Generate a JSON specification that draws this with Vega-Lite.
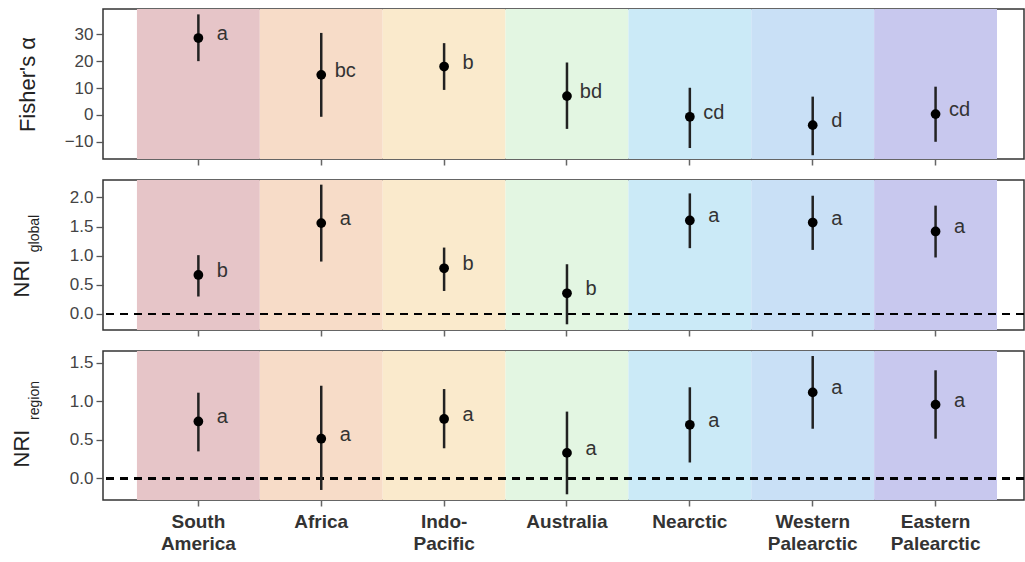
{
  "$schema": "https://vega.github.io/schema/vega-lite/v6.json",
  "padding": {"left": 9, "top": 8, "right": 0, "bottom": 0},
  "background": "white",
  "datasets": {
    "fisher": [
      {"region": "South America", "mean": 28.6, "lo": 20.0, "hi": 37.4, "letter": "a"},
      {"region": "Africa", "mean": 14.9, "lo": -0.7, "hi": 30.5, "letter": "bc"},
      {"region": "Indo-Pacific", "mean": 18.0, "lo": 9.3, "hi": 26.7, "letter": "b"},
      {"region": "Australia", "mean": 7.0, "lo": -5.2, "hi": 19.5, "letter": "bd"},
      {"region": "Nearctic", "mean": -0.7, "lo": -12.3, "hi": 10.1, "letter": "cd"},
      {"region": "Western Palearctic", "mean": -3.8, "lo": -15.0, "hi": 6.8, "letter": "d"},
      {"region": "Eastern Palearctic", "mean": 0.3, "lo": -10.0, "hi": 10.5, "letter": "cd"}
    ],
    "nriGlobal": [
      {"region": "South America", "mean": 0.67, "lo": 0.30, "hi": 1.01, "letter": "b"},
      {"region": "Africa", "mean": 1.56, "lo": 0.90, "hi": 2.22, "letter": "a"},
      {"region": "Indo-Pacific", "mean": 0.785, "lo": 0.395, "hi": 1.14, "letter": "b"},
      {"region": "Australia", "mean": 0.355, "lo": -0.177, "hi": 0.854, "letter": "b"},
      {"region": "Nearctic", "mean": 1.605, "lo": 1.13, "hi": 2.07, "letter": "a"},
      {"region": "Western Palearctic", "mean": 1.57, "lo": 1.10, "hi": 2.03, "letter": "a"},
      {"region": "Eastern Palearctic", "mean": 1.416, "lo": 0.97, "hi": 1.86, "letter": "a"}
    ],
    "nriRegion": [
      {"region": "South America", "mean": 0.737, "lo": 0.35, "hi": 1.11, "letter": "a"},
      {"region": "Africa", "mean": 0.514, "lo": -0.15, "hi": 1.2, "letter": "a"},
      {"region": "Indo-Pacific", "mean": 0.77, "lo": 0.39, "hi": 1.157, "letter": "a"},
      {"region": "Australia", "mean": 0.33, "lo": -0.206, "hi": 0.865, "letter": "a"},
      {"region": "Nearctic", "mean": 0.694, "lo": 0.206, "hi": 1.18, "letter": "a"},
      {"region": "Western Palearctic", "mean": 1.114, "lo": 0.643, "hi": 1.585, "letter": "a"},
      {"region": "Eastern Palearctic", "mean": 0.955, "lo": 0.514, "hi": 1.40, "letter": "a"}
    ]
  },
  "spacing": 12,
  "vconcat": [
    {
      "width": 921, "height": 150,
      "data": {"name": "fisher"},
      "layer": [
        {"mark": {"type": "rect", "opacity": 1},
          "encoding": {
            "x": {"field": "region", "type": "nominal", "sort": null,
              "scale": {"type": "band", "domain": ["South America", "Africa", "Indo-Pacific", "Australia", "Nearctic", "Western Palearctic", "Eastern Palearctic"], "paddingInner": 0, "paddingOuter": 0.248, "align": 0.557},
              "axis": {"title": null, "labels": false, "ticks": true, "domain": false, "grid": false, "tickColor": "#666", "tickSize": 6, "tickWidth": 1.5}},
            "color": {"field": "region", "type": "nominal", "legend": null,
            "scale": {"domain": ["South America", "Africa", "Indo-Pacific", "Australia", "Nearctic", "Western Palearctic", "Eastern Palearctic"], "range": ["#e6c5c8", "#f7dcc8", "#faeacc", "#e3f6e2", "#cbeaf7", "#c9e0f6", "#c8c8ee"]}}}},
        {"mark": {"type": "rule", "color": "#222", "strokeWidth": 2.5},
          "encoding": {
            "x": {"field": "region", "type": "nominal", "sort": null},
            "y": {"field": "lo", "type": "quantitative", "scale": {"domain": [-16.4, 39.4], "nice": false, "zero": false},
              "axis": {"orient": "left", "title": "Fisher's α", "values": [-10, 0, 10, 20, 30], "grid": false, "domain": false, "titleX": -76, "titleY": 75, "titleAngle": 270, "titleAlign": "center", "titleBaseline": "middle"}},
            "y2": {"field": "hi"}}},
        {"mark": {"type": "circle", "color": "black", "opacity": 1, "size": 95},
          "encoding": {
            "x": {"field": "region", "type": "nominal", "sort": null},
            "y": {"field": "mean", "type": "quantitative", "axis": null}}},
        {"mark": {"type": "text", "align": "center", "baseline": "middle", "dx": 24, "dy": -4, "fontSize": 20, "color": "#333", "font": "Liberation Sans"},
          "encoding": {
            "x": {"field": "region", "type": "nominal", "sort": null},
            "y": {"field": "mean", "type": "quantitative", "axis": null}, "text": {"field": "letter"}}}
      ],
      "resolve": {"axis": {"y": "independent"}}
    },
    {
      "width": 921, "height": 150,
      "data": {"name": "nriGlobal"},
      "layer": [
        {"mark": {"type": "rect", "opacity": 1},
          "encoding": {
            "x": {"field": "region", "type": "nominal", "sort": null,
              "scale": {"type": "band", "domain": ["South America", "Africa", "Indo-Pacific", "Australia", "Nearctic", "Western Palearctic", "Eastern Palearctic"], "paddingInner": 0, "paddingOuter": 0.248, "align": 0.557},
              "axis": {"title": null, "labels": false, "ticks": true, "domain": false, "grid": false, "tickColor": "#666", "tickSize": 6, "tickWidth": 1.5}},
            "color": {"field": "region", "type": "nominal", "legend": null,
            "scale": {"domain": ["South America", "Africa", "Indo-Pacific", "Australia", "Nearctic", "Western Palearctic", "Eastern Palearctic"], "range": ["#e6c5c8", "#f7dcc8", "#faeacc", "#e3f6e2", "#cbeaf7", "#c9e0f6", "#c8c8ee"]}}}},
        {"mark": {"type": "rule", "color": "black", "strokeWidth": 2, "strokeDash": [8, 6]},
          "encoding": {"y": {"datum": 0, "type": "quantitative", "scale": {"domain": [-0.275, 2.30], "nice": false, "zero": false},
            "axis": {"orient": "left", "title": "global", "labels": false, "ticks": false, "domain": false, "grid": false, "titleFontSize": 14, "titleX": -69, "titleY": 53, "titleAngle": 270, "titleAlign": "center", "titleBaseline": "middle"}}}},
        {"mark": {"type": "rule", "color": "#222", "strokeWidth": 2.5},
          "encoding": {
            "x": {"field": "region", "type": "nominal", "sort": null},
            "y": {"field": "lo", "type": "quantitative", "axis": null}, "y2": {"field": "hi"}}},
        {"mark": {"type": "circle", "color": "black", "opacity": 1, "size": 95},
          "encoding": {
            "x": {"field": "region", "type": "nominal", "sort": null},
            "y": {"field": "mean", "type": "quantitative",
            "axis": {"orient": "left", "title": "NRI", "values": [0, 0.5, 1, 1.5, 2], "format": ".1f", "grid": false, "domain": false, "titleX": -82, "titleY": 98, "titleAngle": 270, "titleAlign": "center", "titleBaseline": "middle"}}}},
        {"mark": {"type": "text", "align": "center", "baseline": "middle", "dx": 24, "dy": -4, "fontSize": 20, "color": "#333", "font": "Liberation Sans"},
          "encoding": {
            "x": {"field": "region", "type": "nominal", "sort": null},
            "y": {"field": "mean", "type": "quantitative", "axis": null}, "text": {"field": "letter"}}}
      ],
      "resolve": {"axis": {"y": "independent"}}
    },
    {
      "width": 921, "height": 149,
      "data": {"name": "nriRegion"},
      "layer": [
        {"mark": {"type": "rect", "opacity": 1},
          "encoding": {
            "x": {"field": "region", "type": "nominal", "sort": null,
              "scale": {"type": "band", "domain": ["South America", "Africa", "Indo-Pacific", "Australia", "Nearctic", "Western Palearctic", "Eastern Palearctic"], "paddingInner": 0, "paddingOuter": 0.248, "align": 0.557},
              "axis": {"title": null, "labels": true, "ticks": true, "domain": false, "grid": false, "tickColor": "#666", "tickSize": 6, "tickWidth": 1.5, "labelAngle": 0,
                "labelExpr": "datum.value == 'Indo-Pacific' ? ['Indo-', 'Pacific'] : split(datum.value, ' ')",
                "labelFontWeight": "bold", "labelFontSize": 19, "labelLineHeight": 22, "labelColor": "#333", "labelPadding": 6}},
            "color": {"field": "region", "type": "nominal", "legend": null,
            "scale": {"domain": ["South America", "Africa", "Indo-Pacific", "Australia", "Nearctic", "Western Palearctic", "Eastern Palearctic"], "range": ["#e6c5c8", "#f7dcc8", "#faeacc", "#e3f6e2", "#cbeaf7", "#c9e0f6", "#c8c8ee"]}}}},
        {"mark": {"type": "rule", "color": "black", "strokeWidth": 2, "strokeDash": [8, 6]},
          "encoding": {"y": {"datum": 0, "type": "quantitative", "scale": {"domain": [-0.28, 1.65], "nice": false, "zero": false},
            "axis": {"orient": "left", "title": "region", "labels": false, "ticks": false, "domain": false, "grid": false, "titleFontSize": 14, "titleX": -69, "titleY": 49, "titleAngle": 270, "titleAlign": "center", "titleBaseline": "middle"}}}},
        {"mark": {"type": "rule", "color": "#222", "strokeWidth": 2.5},
          "encoding": {
            "x": {"field": "region", "type": "nominal", "sort": null},
            "y": {"field": "lo", "type": "quantitative", "axis": null}, "y2": {"field": "hi"}}},
        {"mark": {"type": "circle", "color": "black", "opacity": 1, "size": 95},
          "encoding": {
            "x": {"field": "region", "type": "nominal", "sort": null},
            "y": {"field": "mean", "type": "quantitative",
            "axis": {"orient": "left", "title": "NRI", "values": [0, 0.5, 1, 1.5], "format": ".1f", "grid": false, "domain": false, "titleX": -82, "titleY": 97, "titleAngle": 270, "titleAlign": "center", "titleBaseline": "middle"}}}},
        {"mark": {"type": "text", "align": "center", "baseline": "middle", "dx": 24, "dy": -4, "fontSize": 20, "color": "#333", "font": "Liberation Sans"},
          "encoding": {
            "x": {"field": "region", "type": "nominal", "sort": null},
            "y": {"field": "mean", "type": "quantitative", "axis": null}, "text": {"field": "letter"}}}
      ],
      "resolve": {"axis": {"y": "independent"}}
    }
  ],
  "config": {
    "font": "Liberation Sans",
    "view": {"stroke": "#333", "strokeWidth": 1.5},
    "axis": {"labelFont": "Liberation Sans", "titleFont": "Liberation Sans", "labelFontSize": 17, "labelColor": "#444", "titleFontSize": 22, "titleFontWeight": "normal", "titleColor": "#222", "tickColor": "#555", "tickSize": 7, "tickWidth": 1.3, "labelPadding": 3}
  }
}
